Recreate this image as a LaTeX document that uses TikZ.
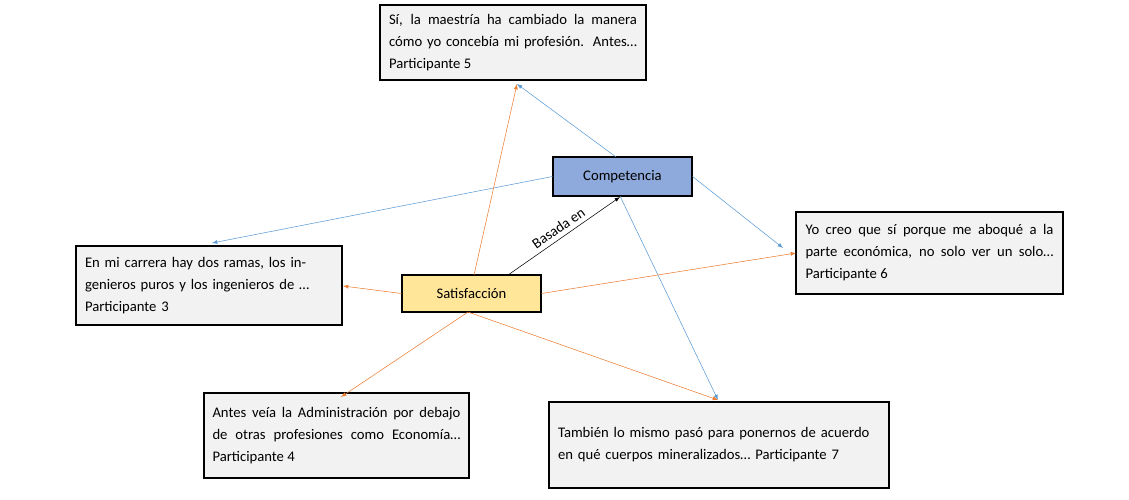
\documentclass[tikz,border=0pt]{standalone}
\usepackage{fontspec}
\setmainfont{Carlito}
\begin{document}
\begin{tikzpicture}[x=0.75pt,y=-0.75pt,
 quote/.style={draw,thick,fill=qgray,inner sep=0pt,align=justify,font=\fontsize{11}{16.5}\selectfont},
 concept/.style={draw,thick,inner sep=0pt,font=\fontsize{11}{13}\selectfont},
 blu/.style={draw=lblue,-latex},
 ora/.style={draw=lorange,-latex}]
\definecolor{qgray}{HTML}{F2F2F2}
\definecolor{cblue}{HTML}{8EA9DB}
\definecolor{cyel}{HTML}{FFE699}
\definecolor{lblue}{HTML}{5B9BD5}
\definecolor{lorange}{HTML}{ED7D31}
\useasboundingbox[fill=white] (0,0) rectangle (1129,500);
\node[quote,minimum width=266*0.75pt,minimum height=75*0.75pt,text width=248*0.75pt] (p5) at (513,42.5) {Sí, la maestría ha cambiado la manera cómo yo concebía mi profesión. Antes… Participante 5};
\node[concept,fill=cblue,minimum width=139*0.75pt,minimum height=39*0.75pt] (comp) at (622.5,176.5) {Competencia};
\node[quote,minimum width=267*0.75pt,minimum height=82*0.75pt,text width=248*0.75pt] (p6) at (929.5,253) {Yo creo que sí porque me aboqué a la parte económica, no solo ver un solo… Participante 6};
\node[quote,minimum width=266*0.75pt,minimum height=79*0.75pt,text width=248*0.75pt,align=left] (p3) at (209,285.5) {En mi carrera hay dos ramas, los ingenieros puros y los ingenieros de … Participante 3};
\node[concept,fill=cyel,minimum width=139*0.75pt,minimum height=37*0.75pt] (sat) at (471.5,293.5) {Satisfacción};
\node[quote,minimum width=265*0.75pt,minimum height=85*0.75pt,text width=248*0.75pt] (p4) at (336.5,435.5) {Antes veía la Administración por debajo de otras profesiones como Economía… Participante 4};
\node[quote,minimum width=340*0.75pt,minimum height=86*0.75pt,text width=322*0.75pt,align=left] (p7) at (719,445) {También lo mismo pasó para ponernos de acuerdo en qué cuerpos mineralizados… Participante 7};
\coordinate (p5a) at (517,84);
\coordinate (p3a) at (212,243);
\coordinate (p3b) at (343,286);
\coordinate (p6a) at (783,248);
\coordinate (p6b) at (796,253);
\coordinate (p7a) at (718,400);
\coordinate (p4a) at (341,397);
\coordinate (compb) at (620,197);
\coordinate (cs) at (616,157);
\coordinate (cb) at (620,196);
\coordinate (ss) at (474,275);
\coordinate (sb) at (468,312);
\coordinate (sr) at (508,275);
\draw[blu] (cs) -- (p5a);
\draw[blu] (comp.west) -- (p3a);
\draw[blu] (comp.east) -- (p6a);
\draw[blu] (cb) -- (p7a);
\draw[ora] (ss) -- (p5a);
\draw[ora] (sat.west) -- (p3b);
\draw[ora] (sat.east) -- (p6b);
\draw[ora] (sb) -- (p4a);
\draw[ora] (sb) -- (p7a);
\draw[-latex] (sr) -- node[sloped,above,font=\fontsize{11}{13}\selectfont]{Basada en} (compb);
\end{tikzpicture}
\end{document}
